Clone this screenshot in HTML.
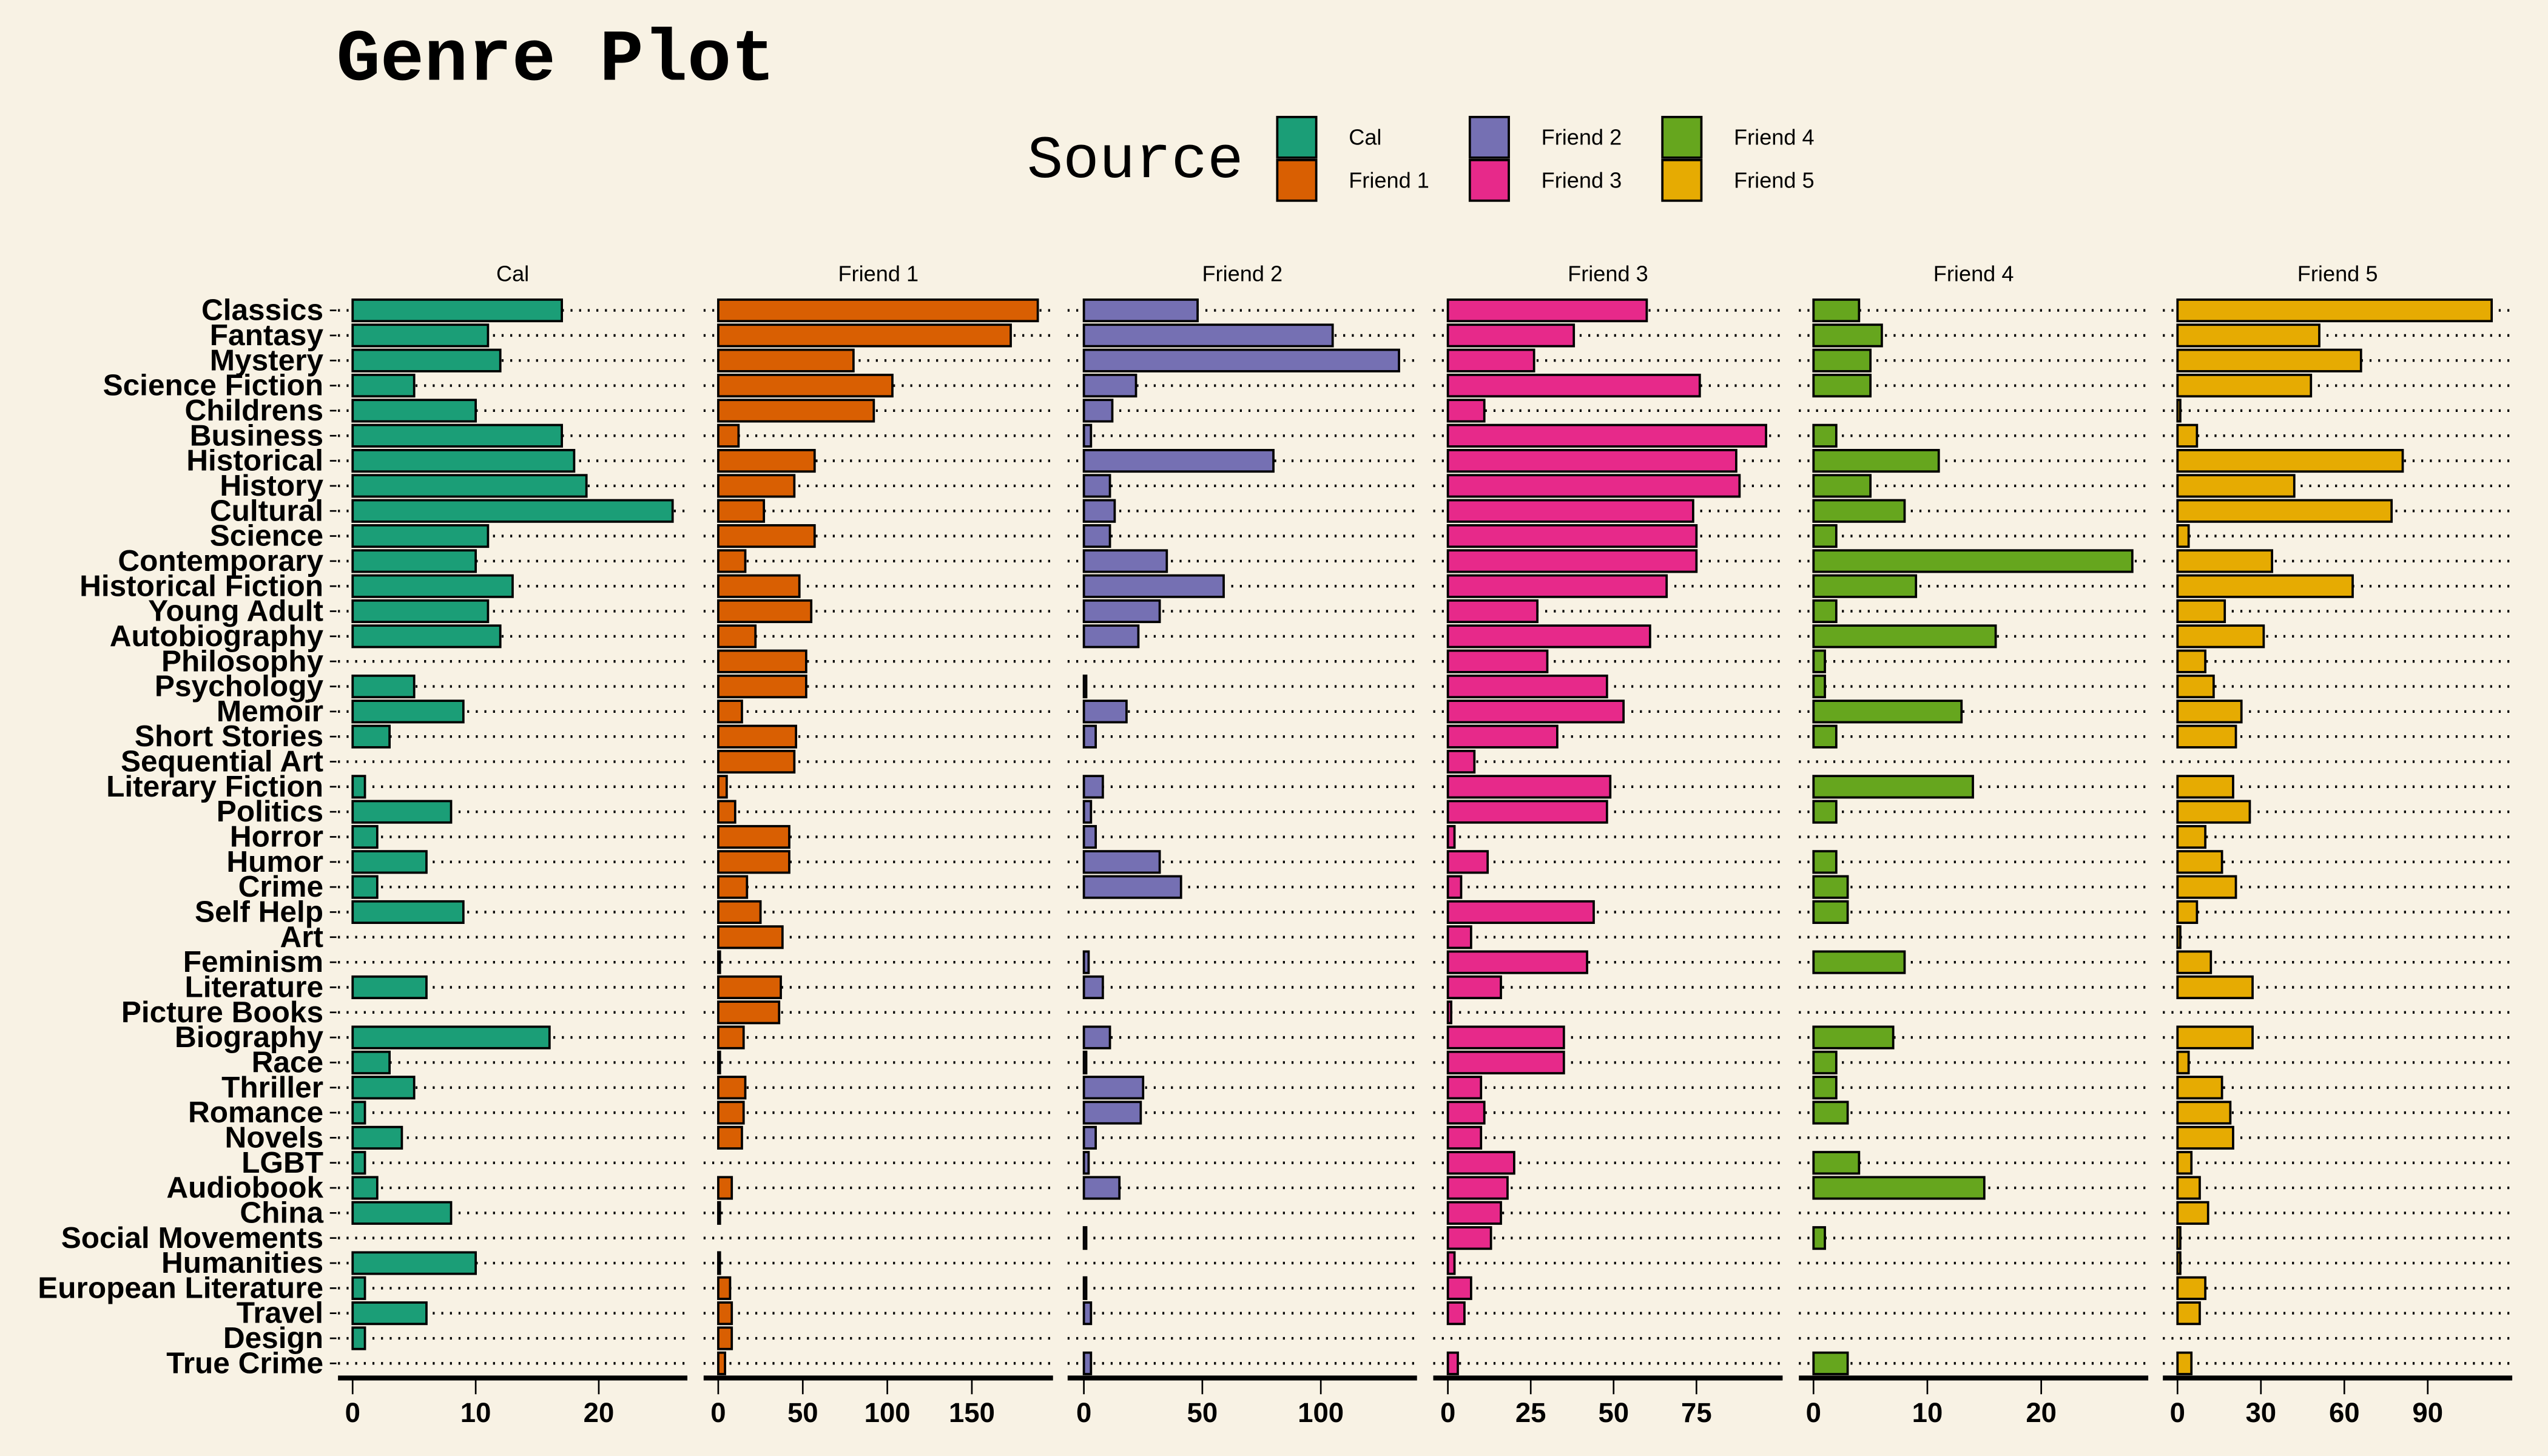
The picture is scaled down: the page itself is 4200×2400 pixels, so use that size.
<!DOCTYPE html>
<html><head><meta charset="utf-8"><style>
html,body{margin:0;padding:0;background:#F8F2E4;}
svg{display:block;}
</style></head><body>
<svg id="chart" xmlns="http://www.w3.org/2000/svg" width="4200" height="2400" viewBox="0 0 1568 896">
<rect x="0" y="0" width="1568" height="896" fill="#F8F2E4"/>
<text x="207" y="49" font-family="'Liberation Mono',monospace" font-weight="bold" font-size="45" fill="#000">Genre Plot</text>
<g id="legend">
<text x="632" y="109" font-family="'Liberation Mono',monospace" font-size="37" fill="#000">Source</text>
</g>
<g id="panels"></g>
</svg>
<script>
const categories = ["Classics","Fantasy","Mystery","Science Fiction","Childrens","Business","Historical","History","Cultural","Science","Contemporary","Historical Fiction","Young Adult","Autobiography","Philosophy","Psychology","Memoir","Short Stories","Sequential Art","Literary Fiction","Politics","Horror","Humor","Crime","Self Help","Art","Feminism","Literature","Picture Books","Biography","Race","Thriller","Romance","Novels","LGBT","Audiobook","China","Social Movements","Humanities","European Literature","Travel","Design","True Crime"];
const sources = ["Cal","Friend 1","Friend 2","Friend 3","Friend 4","Friend 5"];
const calValues = [17,11,12,5,10,17,18,19,26,11,10,13,11,12,0,5,9,3,0,1,8,2,6,2,9,0,0,6,0,16,3,5,1,4,1,2,8,0,10,1,6,1,0];
const friend1Values = [189,173,80,103,92,12,57,45,27,57,16,48,55,22,52,52,14,46,45,5,10,42,42,17,25,38,1,37,36,15,1,16,15,14,0,8,1,0,1,7,8,8,4];
const friend2Values = [48,105,133,22,12,3,80,11,13,11,35,59,32,23,0,1,18,5,0,8,3,5,32,41,0,0,2,8,0,11,1,25,24,5,2,15,0,1,0,1,3,0,3];
const friend3Values = [60,38,26,76,11,96,87,88,74,75,75,66,27,61,30,48,53,33,8,49,48,2,12,4,44,7,42,16,1,35,35,10,11,10,20,18,16,13,2,7,5,0,3];
const friend4Values = [4,6,5,5,0,2,11,5,8,2,28,9,2,16,1,1,13,2,0,14,2,0,2,3,3,0,8,0,0,7,2,2,3,0,4,15,0,1,0,0,0,0,3];
const friend5Values = [113,51,66,48,1,7,81,42,77,4,34,63,17,31,10,13,23,21,0,20,26,10,16,21,7,1,12,27,0,27,4,16,19,20,5,8,11,1,1,10,8,0,5];
const tickCal = [0,10,20];
const tickF1 = [0,50,100,150];
const tickF2 = [0,50,100];
const tickF3 = [0,25,50,75];
const tickF4 = [0,10,20];
const tickF5 = [0,30,60,90];

const series = [calValues,friend1Values,friend2Values,friend3Values,friend4Values,friend5Values];
const ticks = [tickCal,tickF1,tickF2,tickF3,tickF4,tickF5];
const colors = ["#1B9E77","#D95F02","#7570B3","#E7298A","#66A61E","#E6AB02"];
const panelLeft = [208,433,657,882,1107,1331];
const panelW = 215;
const zeroX = [217,442,667,891,1116,1340];
const domainMax = [27.2,198,140.6,101,29.4,120.4];
const NS = "http://www.w3.org/2000/svg";
const svg = document.getElementById('chart');
const panels = document.getElementById('panels');
const legend = document.getElementById('legend');
const rowY0 = 191, rowY1 = 839;
function yScale(i){ return rowY0 + i*(rowY1-rowY0)/(categories.length-1); }
function xScale(p,v){ const pxPer = (panelLeft[p]+panelW-zeroX[p])/domainMax[p]; return zeroX[p] + v*pxPer; }
function mk(tag, attrs, parent){ const e=document.createElementNS(NS,tag); for(const k in attrs) e.setAttribute(k,attrs[k]); parent.appendChild(e); return e; }
const sans = "'Liberation Sans',Arial,sans-serif";

sources.forEach((s,k)=>{
  const col = Math.floor(k/2), row = k%2;
  const x = 786 + col*118.5, y = 72 + row*26.5;
  const r = mk('rect',{x:x,y:y,width:24,height:25,fill:colors[k],stroke:'#000','stroke-width':1.4},legend);
  
  
  const t = mk('text',{x:x+44,y:y+17,'font-family':sans,'font-size':13.5,fill:'#000'},legend);
  t.textContent = s;
  
  
});

categories.forEach((c,i)=>{
  const y = yScale(i);
  const t = mk('text',{x:199,y:y+6,'text-anchor':'end','font-family':sans,'font-weight':'bold','font-size':18.5,fill:'#000'},svg);
  t.textContent = c;
  
  
  const tk = mk('line',{x1:203,x2:207,y1:y,y2:y,stroke:'#000','stroke-width':1},svg);
  
  
});

sources.forEach((s,p)=>{
  const g = mk('g',{},panels);
  
  
  const st = mk('text',{x:panelLeft[p]+panelW/2,y:173,'text-anchor':'middle','font-family':sans,'font-size':13.5,fill:'#000'},g);
  st.textContent = s;
  
  
  categories.forEach((c,i)=>{
    const y = yScale(i);
    const gl = mk('line',{x1:panelLeft[p],x2:panelLeft[p]+panelW,y1:y,y2:y,stroke:'#000','stroke-width':1.6,'stroke-dasharray':'1.2 4.1'},g);
    
    
  });
  series[p].forEach((v,i)=>{
    if(v<=0) return;
    const y = yScale(i);
    const x0 = xScale(p,0), x1 = xScale(p,v);
    const b = mk('rect',{x:x0,y:y-6.6,width:Math.max(x1-x0,0.8),height:13.2,fill:colors[p],stroke:'#000','stroke-width':1.4},g);
    
    
  });
  const ax = mk('line',{x1:panelLeft[p],x2:panelLeft[p]+panelW,y1:848,y2:848,stroke:'#000','stroke-width':3},g);
  
  
  ticks[p].forEach(tv=>{
    const x = xScale(p,tv);
    const tl = mk('line',{x1:x,x2:x,y1:849,y2:858,stroke:'#000','stroke-width':1},g);
    
    
    const tt = mk('text',{x:x,y:875,'text-anchor':'middle','font-family':sans,'font-weight':'bold','font-size':17,fill:'#000'},g);
    tt.textContent = String(tv);
    
    
  });
});
</script>
</body></html>
